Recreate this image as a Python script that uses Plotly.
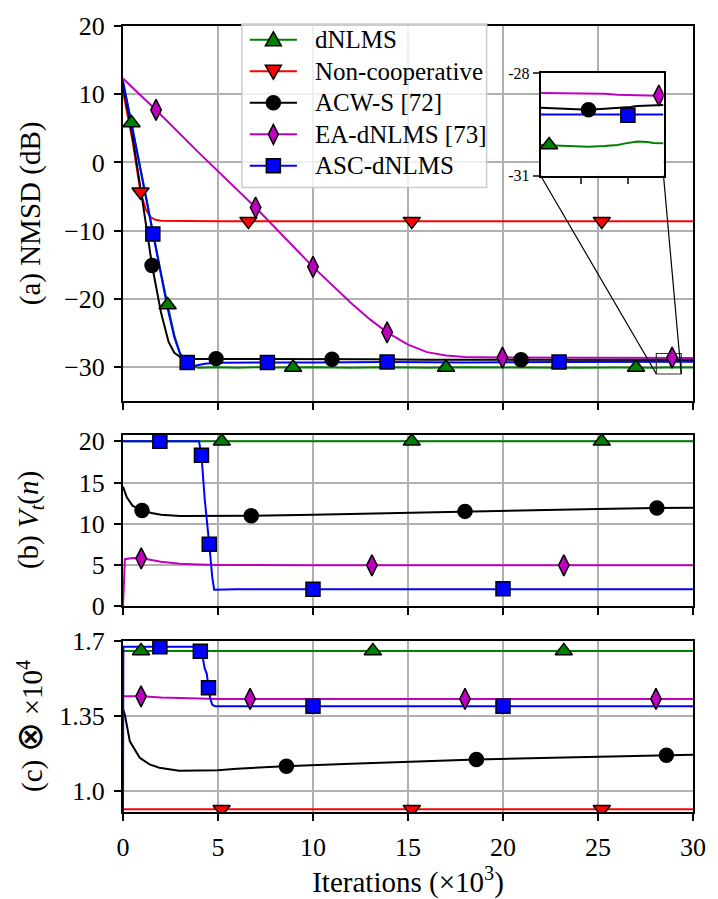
import plotly.graph_objects as go

# ---------------- shared styling ----------------
C_GREEN = "#008000"
C_RED = "#ff0000"
C_BLACK = "#000000"
C_MAGENTA = "#bf00bf"
C_BLUE = "#0000ff"
FONT = "Liberation Serif, Times New Roman, serif"

names = ["dNLMS", "Non-cooperative", "ACW-S [72]", "EA-dNLMS [73]", "ASC-dNLMS"]
colors = [C_GREEN, C_RED, C_BLACK, C_MAGENTA, C_BLUE]
symbols = ["triangle-up", "triangle-down", "circle", "diamond-tall", "square"]
msizes = [15, 15, 14, 15, 14]

# ---------------- (a) NMSD (dB), iterations in thousands ----------------
a_dnlms_x = [0, 0.45, 1.0, 1.6, 2.0, 2.35, 2.7, 3.0, 3.3, 3.6, 4.0, 5, 6, 7, 8, 10, 12, 14, 16, 18, 20, 22, 24, 26, 28, 29, 30]
a_dnlms_y = [11.5, 5.8, -2.0, -10.8, -16.2, -20.9, -25.3, -28.0, -29.4, -29.9, -30.1, -30.0, -30.1, -30.0, -30.05,
             -30.0, -30.1, -30.0, -30.1, -30.0, -30.05, -30.0, -30.1, -30.05, -30.1, -30.0, -30.05]
a_noncoop_x = [0, 0.5, 0.92, 1.2, 1.45, 1.7, 2.0, 3, 5, 10, 15, 20, 25, 30]
a_noncoop_y = [10.4, 3.2, -4.3, -6.9, -8.0, -8.4, -8.55, -8.6, -8.6, -8.6, -8.6, -8.6, -8.6, -8.6]
a_acws_x = [0, 0.5, 1.0, 1.53, 2.0, 2.4, 2.7, 3.0, 3.5, 4.0, 5, 7, 10, 13, 16, 20, 24, 28, 30]
a_acws_y = [11.3, 3.8, -5.2, -15.1, -22.0, -26.3, -27.9, -28.5, -28.8, -28.8, -28.75, -28.8, -28.85,
            -28.85, -28.9, -28.9, -28.95, -29.0, -28.95]
a_ea_x = [0, 1.74, 4, 6.98, 10, 12, 13, 13.9, 15, 16, 17, 18, 20, 24, 28, 30]
a_ea_y = [12.3, 7.7, 1.4, -6.6, -15.3, -20.6, -23.0, -24.9, -26.7, -27.8, -28.3, -28.5, -28.6, -28.6, -28.6, -28.65]
a_asc_x = [0, 0.5, 1.0, 1.57, 2.0, 2.35, 2.7, 3.0, 3.2, 3.4, 3.8, 4.3, 5, 7, 10, 14, 18, 23, 28, 30]
a_asc_y = [12.0, 4.8, -2.3, -10.5, -16.6, -21.4, -25.6, -28.0, -28.9, -29.3, -29.8, -29.5, -29.35, -29.3,
           -29.3, -29.25, -29.3, -29.25, -29.2, -29.2]

# marker positions along each curve in (a)
a_mk_dnlms = ([0.45, 2.35, 8.95, 17.0, 27.0], [5.8, -20.9, -30.05, -30.05, -30.05])
a_mk_noncoop = ([0.92, 6.6, 15.2, 25.2], [-4.3, -8.6, -8.6, -8.6])
a_mk_acws = ([1.53, 4.9, 11.0, 20.95], [-15.1, -28.75, -28.85, -28.9])
a_mk_ea = ([1.74, 6.98, 10.0, 13.9, 19.97, 28.9], [7.7, -6.6, -15.3, -24.9, -28.6, -28.6])
a_mk_asc = ([1.57, 3.38, 7.6, 13.9, 22.95], [-10.5, -29.3, -29.3, -29.25, -29.25])

# zoomed detail of the steady state (inset)
in_x = [28.07, 28.2, 28.37, 28.58, 28.75, 28.89, 28.96, 29.03, 29.1, 29.21, 29.27, 29.38]
in_dnlms = [-30.1, -30.11, -30.13, -30.15, -30.13, -30.1, -30.06, -30.02, -30.0, -30.01, -30.04, -30.05]
in_acws = [-29.01, -29.02, -29.04, -29.07, -29.04, -29.02, -29.01, -28.99, -28.96, -28.95, -28.94, -28.93]
in_ea = [-28.58, -28.58, -28.6, -28.59, -28.6, -28.63, -28.64, -28.64, -28.64, -28.65, -28.66, -28.66]
in_asc = [-29.21, -29.21, -29.22, -29.22, -29.22, -29.23, -29.23, -29.23, -29.22, -29.21, -29.21, -29.21]
in_mk_dnlms = ([28.16], [-30.1])
in_mk_acws = ([28.58], [-29.07])
in_mk_ea = ([29.33], [-28.65])
in_mk_asc = ([29.0], [-29.23])
inset_xrange = [28.07, 29.38]
inset_yrange = [-31, -28]

# ---------------- (b) V_t(n) ----------------
b_dnlms_x = [0, 30]
b_dnlms_y = [20, 20]
b_acws_x = [0, 0.2, 0.5, 1.0, 1.5, 2, 3, 4, 5, 6.75, 10, 15, 18, 22, 25, 28, 30]
b_acws_y = [14.5, 13.2, 12.2, 11.6, 11.3, 11.1, 10.95, 10.95, 10.97, 10.97, 11.1, 11.35, 11.5, 11.7, 11.8, 11.9, 11.95]
b_ea_x = [0, 0.1, 0.5, 1.0, 2, 3, 4, 5, 10, 20, 30]
b_ea_y = [0, 5.7, 5.85, 5.8, 5.4, 5.15, 5.05, 5.0, 4.95, 4.95, 4.95]
b_asc_x = [0, 4.0, 4.13, 4.3, 4.54, 4.7, 4.8, 6, 10, 15, 20, 25, 30]
b_asc_y = [20, 20, 18.3, 13.0, 7.5, 3.5, 2.0, 2.05, 2.05, 2.05, 2.1, 2.1, 2.05]

b_mk_dnlms = ([5.2, 15.2, 25.2], [20, 20, 20])
b_mk_acws = ([1.0, 6.75, 18.0, 28.1], [11.6, 10.97, 11.5, 11.92])
b_mk_ea = ([0.96, 13.1, 23.2], [5.8, 4.95, 4.95])
b_mk_asc = ([1.94, 4.13, 4.54, 10.0, 20.0], [20, 18.3, 7.5, 2.05, 2.1])

# ---------------- (c) complexity (x10^4) ----------------
c_dnlms_x = [0, 30]
c_dnlms_y = [1.652, 1.652]
c_noncoop_x = [0, 30]
c_noncoop_y = [0.913, 0.913]
c_acws_x = [0, 0.1, 0.36, 0.88, 1.4, 1.91, 2.95, 4, 5, 6, 8.5, 12, 15, 18.6, 22, 25, 28.6, 30]
c_acws_y = [1.38, 1.353, 1.23, 1.153, 1.122, 1.107, 1.093, 1.093, 1.095, 1.102, 1.114, 1.125,
            1.135, 1.145, 1.152, 1.158, 1.165, 1.167]
c_ea_x = [0, 1, 2, 3, 4, 5, 30]
c_ea_y = [1.44, 1.44, 1.435, 1.432, 1.43, 1.428, 1.427]
c_asc_x = [0, 0.02, 4.0, 4.07, 4.2, 4.3, 4.41, 4.5, 4.59, 4.7, 4.84, 10, 20, 30]
c_asc_y = [0.9, 1.671, 1.671, 1.65, 1.62, 1.57, 1.545, 1.48, 1.43, 1.40, 1.394, 1.394, 1.394, 1.394]

c_mk_dnlms = ([0.95, 13.15, 23.2], [1.652, 1.652, 1.652])
c_mk_noncoop = ([5.19, 15.2, 25.2], [0.913, 0.913, 0.913])
c_mk_acws = ([8.6, 18.6, 28.6], [1.114, 1.145, 1.165])
c_mk_ea = ([0.95, 6.69, 18.0, 28.05], [1.44, 1.428, 1.428, 1.428])
c_mk_asc = ([1.94, 4.07, 4.5, 10.0, 20.0], [1.671, 1.65, 1.48, 1.394, 1.394])

# ---------------- axis ranges / ticks ----------------
x_range = [0, 30]
x_ticks = [0, 5, 10, 15, 20, 25, 30]
a_range = [-35, 20]
a_ticks = [-30, -20, -10, 0, 10, 20]
b_range = [0, 20.8]
b_ticks = [0, 5, 10, 15, 20]
c_range = [0.9, 1.7]
c_ticks = [1.0, 1.35, 1.7]
c_ticktext = ["1.0", "1.35", "1.7"]

# figure geometry in pixels
W, H = 718, 899
ML, MR, MT, MB = 123, 15, 14, 87
PW, PH = W - ML - MR, H - MT - MB


def px_x(p):
    return (p - ML) / PW


def px_y(p):
    return (H - MB - p) / PH


dom_a = [px_y(395), 1.0]
dom_b = [px_y(603), px_y(429)]
dom_c = [0.0, px_y(638)]
inset_dom_x = [px_x(548), px_x(673)]
inset_dom_y = [px_y(166), px_y(62)]

fig = go.Figure()


def curve(x, y, color, xa, ya):
    fig.add_trace(go.Scatter(x=x, y=y, mode="lines", line=dict(color=color, width=2),
                             xaxis=xa, yaxis=ya, showlegend=False, hoverinfo="skip"))


def marks(pts, color, symbol, size, xa, ya):
    fig.add_trace(go.Scatter(x=pts[0], y=pts[1], mode="markers",
                             marker=dict(symbol=symbol, size=size, color=color,
                                         line=dict(color="black", width=1.5)),
                             xaxis=xa, yaxis=ya, showlegend=False, hoverinfo="skip"))


# (a)
curve(a_ea_x, a_ea_y, C_MAGENTA, "x", "y")
curve(a_noncoop_x, a_noncoop_y, C_RED, "x", "y")
curve(a_dnlms_x, a_dnlms_y, C_GREEN, "x", "y")
curve(a_acws_x, a_acws_y, C_BLACK, "x", "y")
curve(a_asc_x, a_asc_y, C_BLUE, "x", "y")
marks(a_mk_dnlms, C_GREEN, symbols[0], msizes[0], "x", "y")
marks(a_mk_noncoop, C_RED, symbols[1], msizes[1], "x", "y")
marks(a_mk_acws, C_BLACK, symbols[2], msizes[2], "x", "y")
marks(a_mk_ea, C_MAGENTA, symbols[3], msizes[3], "x", "y")
marks(a_mk_asc, C_BLUE, symbols[4], msizes[4], "x", "y")

# (b)
curve(b_dnlms_x, b_dnlms_y, C_GREEN, "x2", "y2")
curve(b_acws_x, b_acws_y, C_BLACK, "x2", "y2")
curve(b_ea_x, b_ea_y, C_MAGENTA, "x2", "y2")
curve(b_asc_x, b_asc_y, C_BLUE, "x2", "y2")
marks(b_mk_dnlms, C_GREEN, symbols[0], msizes[0], "x2", "y2")
marks(b_mk_acws, C_BLACK, symbols[2], msizes[2], "x2", "y2")
marks(b_mk_ea, C_MAGENTA, symbols[3], msizes[3], "x2", "y2")
marks(b_mk_asc, C_BLUE, symbols[4], msizes[4], "x2", "y2")

# (c)
curve(c_dnlms_x, c_dnlms_y, C_GREEN, "x3", "y3")
curve(c_noncoop_x, c_noncoop_y, C_RED, "x3", "y3")
curve(c_acws_x, c_acws_y, C_BLACK, "x3", "y3")
curve(c_ea_x, c_ea_y, C_MAGENTA, "x3", "y3")
curve(c_asc_x, c_asc_y, C_BLUE, "x3", "y3")
marks(c_mk_dnlms, C_GREEN, symbols[0], msizes[0], "x3", "y3")
marks(c_mk_noncoop, C_RED, symbols[1], msizes[1], "x3", "y3")
marks(c_mk_acws, C_BLACK, symbols[2], msizes[2], "x3", "y3")
marks(c_mk_ea, C_MAGENTA, symbols[3], msizes[3], "x3", "y3")
marks(c_mk_asc, C_BLUE, symbols[4], msizes[4], "x3", "y3")

# inset
curve(in_x, in_ea, C_MAGENTA, "x4", "y4")
curve(in_x, in_dnlms, C_GREEN, "x4", "y4")
curve(in_x, in_acws, C_BLACK, "x4", "y4")
curve(in_x, in_asc, C_BLUE, "x4", "y4")
marks(in_mk_dnlms, C_GREEN, symbols[0], msizes[0], "x4", "y4")
marks(in_mk_acws, C_BLACK, symbols[2], msizes[2], "x4", "y4")
marks(in_mk_ea, C_MAGENTA, symbols[3], msizes[3], "x4", "y4")
marks(in_mk_asc, C_BLUE, symbols[4], msizes[4], "x4", "y4")

TICKFONT = dict(family=FONT, size=26, color="black")
common_x = dict(range=x_range, tickvals=x_ticks, showgrid=True, gridcolor="#b0b0b0", gridwidth=1.5,
                showline=True, linecolor="black", linewidth=2, mirror=True, ticks="outside",
                ticklen=7, tickwidth=2, tickcolor="black", zeroline=False, tickfont=TICKFONT,
                domain=[0, 1])
common_y = dict(showgrid=True, gridcolor="#b0b0b0", gridwidth=1.5, showline=True, linecolor="black",
                linewidth=2, mirror=True, ticks="outside", ticklen=7, tickwidth=2, tickcolor="black",
                zeroline=False, tickfont=TICKFONT, ticklabelstandoff=4)

fig.update_layout(
    width=W, height=H,
    margin=dict(l=ML, r=MR, t=MT, b=MB),
    paper_bgcolor="white", plot_bgcolor="white",
    font=dict(family=FONT, size=24, color="black"),
    showlegend=False,
    xaxis=dict(common_x, anchor="y", showticklabels=False),
    yaxis=dict(common_y, domain=dom_a, range=a_range, tickvals=a_ticks, anchor="x"),
    xaxis2=dict(common_x, anchor="y2", showticklabels=False),
    yaxis2=dict(common_y, domain=dom_b, range=b_range, tickvals=b_ticks, anchor="x2"),
    xaxis3=dict(common_x, anchor="y3", showticklabels=True, ticklabelstandoff=4,
                title=dict(text="Iterations (×10<sup>3</sup>)", font=dict(family=FONT, size=29),
                           standoff=2)),
    yaxis3=dict(common_y, domain=dom_c, range=c_range, tickvals=c_ticks, ticktext=c_ticktext, anchor="x3"),
    xaxis4=dict(domain=inset_dom_x, range=inset_xrange, anchor="y4", showgrid=False, zeroline=False,
                showline=True, linecolor="black", linewidth=2, mirror=True, ticks="outside",
                tickvals=[28.5, 29.0], showticklabels=False, ticklen=6, tickwidth=2),
    yaxis4=dict(domain=inset_dom_y, range=inset_yrange, anchor="x4", showgrid=False, zeroline=False,
                showline=True, linecolor="black", linewidth=2, mirror=True, ticks="outside",
                tickvals=[-31, -28], ticktext=["-31", "-28"], ticklen=6, tickwidth=2,
                tickfont=dict(family=FONT, size=16, color="black")),
)

# y-axis labels
ylabels = [("(a) NMSD (dB)", dom_a),
           ("(b) <i>V<sub>t</sub></i>(<i>n</i>)", dom_b),
           ("(c) <span style='font-size:36px'>⊗</span> ×10<sup>4</sup>", dom_c)]
for txt, dom in ylabels:
    fig.add_annotation(text=txt, xref="paper", yref="paper", x=px_x(29), y=(dom[0] + dom[1]) / 2,
                       xanchor="center", yanchor="middle", textangle=-90, showarrow=False,
                       font=dict(family=FONT, size=29, color="black"))

# zoom box in (a) and connectors to the inset
fig.add_shape(type="rect", xref="x", yref="y", x0=inset_xrange[0], x1=inset_xrange[1],
              y0=inset_yrange[0], y1=inset_yrange[1], line=dict(color="#333333", width=1.2))


def to_paper_a(xv, yv):
    px = (xv - x_range[0]) / (x_range[1] - x_range[0])
    py = dom_a[0] + (yv - a_range[0]) / (a_range[1] - a_range[0]) * (dom_a[1] - dom_a[0])
    return px, py


for corner_x, inset_px in [(inset_xrange[0], inset_dom_x[0]), (inset_xrange[1], inset_dom_x[1])]:
    bx, by = to_paper_a(corner_x, inset_yrange[0])
    fig.add_shape(type="line", xref="paper", yref="paper", x0=inset_px, y0=inset_dom_y[0],
                  x1=bx, y1=by, line=dict(color="black", width=1.2), layer="above")

# ---------------- legend box (drawn on top of panel a) ----------------
LEG_LEFT, LEG_RIGHT, LEG_TOP, LEG_BOTTOM = 244, 493, 12, 178
ROW0, ROW_STEP = 28, 32
fig.add_shape(type="rect", xref="paper", yref="paper",
              x0=px_x(LEG_LEFT), x1=px_x(LEG_RIGHT), y0=px_y(LEG_BOTTOM), y1=px_y(LEG_TOP),
              fillcolor="rgba(255,255,255,0.8)", line=dict(color="#cccccc", width=1.5), layer="above")

# marker outlines in pixel units (y positive = up)
key_paths = {
    "triangle-up": "M-8,-6 L8,-6 L0,8 Z",
    "triangle-down": "M-8,6 L8,6 L0,-8 Z",
    "diamond-tall": "M0,-10 L5,0 L0,10 L-5,0 Z",
}
for i, (n, c, s) in enumerate(zip(names, colors, symbols)):
    yy = px_y(ROW0 + i * ROW_STEP)
    fig.add_shape(type="line", xref="paper", yref="paper", x0=px_x(252), x1=px_x(300), y0=yy, y1=yy,
                  line=dict(color=c, width=2), layer="above")
    mk = dict(xref="paper", yref="paper", xsizemode="pixel", ysizemode="pixel",
              xanchor=px_x(276), yanchor=yy, fillcolor=c, line=dict(color="black", width=1.5),
              layer="above")
    if s == "circle":
        fig.add_shape(type="circle", x0=-7, x1=7, y0=-7, y1=7, **mk)
    elif s == "square":
        fig.add_shape(type="rect", x0=-7, x1=7, y0=-7, y1=7, **mk)
    else:
        fig.add_shape(type="path", path=key_paths[s], **mk)
    fig.add_annotation(text=n, xref="paper", yref="paper", x=px_x(316), y=yy, xanchor="left",
                       yanchor="middle", showarrow=False, font=dict(family=FONT, size=25, color="black"))

fig.write_html("out.html")
